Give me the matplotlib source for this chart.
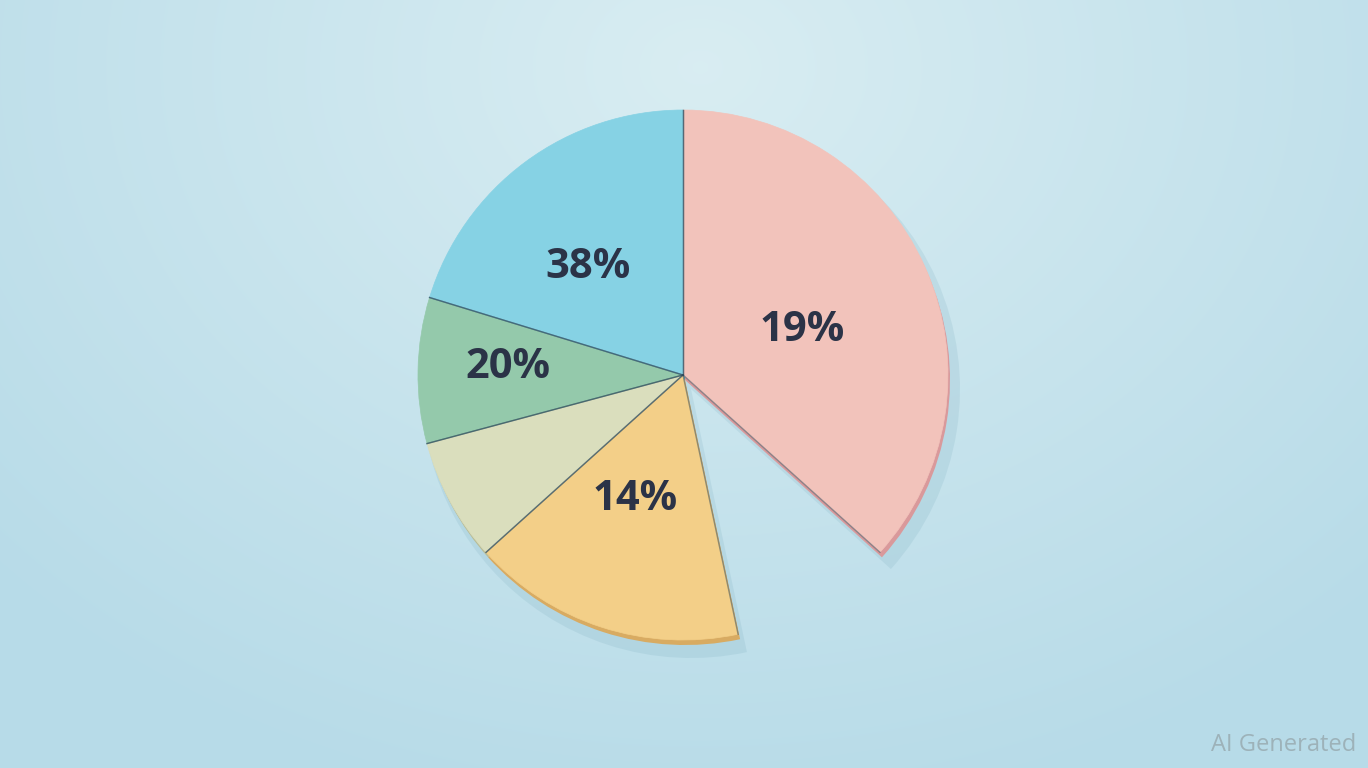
import numpy as np
import matplotlib.pyplot as plt
from matplotlib.patches import Wedge

# 扇形資料：角度跨度（度），從 12 點鐘方向順時針；None 標籤 = 不顯示
slice_names = ["pink", "gap", "yellow", "cream", "green", "blue"]
slice_spans = [132, 36, 60, 27, 32, 73]
slice_labels = ["19%", None, "14%", None, "20%", "38%"]
slice_colors = ["#f2c3bb", "none", "#f3cf88", "#dadebd", "#94c9ab", "#86d2e4"]
side_colors = ["#d9999b", "none", "#d8ab62", "#b9bd98", "#5f8f7a", "#4f9fb8"]

# 版面（像素座標，y 向上）
W, H = 1368, 768
CENTER = (683, 393)
RADIUS = 265
LABEL_R = [0.48, 0, 0.505, 0, 0.66, 0.54]    # 標籤距圓心比例
LABEL_DA = [-3.3, 0, -3.0, 0, -1.3, 5.0]     # 相對扇形中線的角度修正

fig = plt.figure(figsize=(W / 100, H / 100), dpi=100)
ax = fig.add_axes([0, 0, 1, 1])

# 背景：淡藍漸層，上方中央偏亮
yy, xx = np.mgrid[0:H, 0:W]
d = np.sqrt(((xx - 700) / 950.0) ** 2 + ((yy - 700) / 750.0) ** 2)
top = np.array([0.85, 0.93, 0.95])
bot = np.array([0.72, 0.86, 0.91])
t = np.clip(d, 0, 1)[..., None]
bg = top * (1 - t) + bot * t
ax.imshow(bg, extent=[0, W, 0, H], origin="lower", zorder=0)

theta = 90.0
geoms = []
for span in slice_spans:
    geoms.append((theta - span, theta))
    theta -= span

# 側面（厚度）與陰影
for (t1, t2), col, name in zip(geoms, side_colors, slice_names):
    if name == "gap":
        continue
    ax.add_patch(Wedge((CENTER[0] + 8, CENTER[1] - 14), RADIUS + 4, t1, t2,
                       facecolor="#6a9fb2", alpha=0.15, edgecolor="none", zorder=1.5))
    ax.add_patch(Wedge((CENTER[0] + 2, CENTER[1] - 5), RADIUS, t1, t2,
                       facecolor=col, edgecolor="none", zorder=2))

# 頂面
for (t1, t2), col, name in zip(geoms, slice_colors, slice_names):
    if name == "gap":
        continue
    ax.add_patch(Wedge(CENTER, RADIUS, t1, t2, facecolor=col,
                       edgecolor=col, linewidth=0.5, zorder=3))

# 扇形之間的暗縫
for (t1, t2), name in zip(geoms, slice_names):
    if name == "gap":
        continue
    for ang in (t1, t2):
        a = np.deg2rad(ang)
        ax.plot([CENTER[0], CENTER[0] + RADIUS * np.cos(a)],
                [CENTER[1], CENTER[1] + RADIUS * np.sin(a)],
                color="#2f4a5c", linewidth=1.0, alpha=0.5, zorder=4)

# 百分比標籤
for (t1, t2), lab, r, da in zip(geoms, slice_labels, LABEL_R, LABEL_DA):
    if lab is None:
        continue
    mid = np.deg2rad((t1 + t2) / 2 + da)
    x = CENTER[0] + r * RADIUS * np.cos(mid)
    y = CENTER[1] + r * RADIUS * np.sin(mid)
    ax.text(x, y, lab, ha="center", va="center", fontsize=30,
            fontweight="bold", color="#2b3347",
            family=["Open Sans", "DejaVu Sans"], zorder=5)

ax.text(1356, 23, "AI Generated", ha="right", va="center",
        fontsize=17, color="#9db2b9", family=["Open Sans", "DejaVu Sans"], zorder=5)

ax.set_xlim(0, W)
ax.set_ylim(0, H)
ax.set_aspect("auto")
ax.axis("off")
fig.savefig("out.png", dpi=100)
